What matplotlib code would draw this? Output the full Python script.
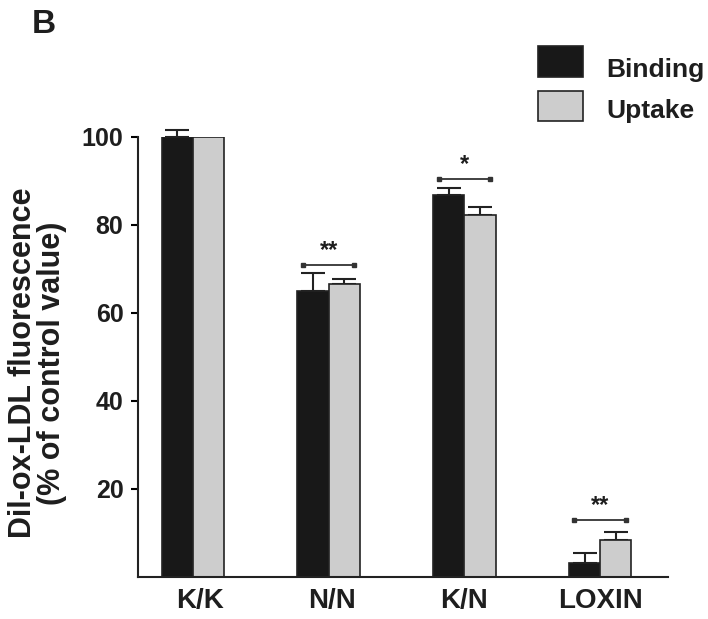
import matplotlib
matplotlib.use("Agg")
import matplotlib.pyplot as plt
import numpy as np
from matplotlib.patches import Rectangle

plt.rcParams['font.family'] = ['Liberation Sans', 'DejaVu Sans']
plt.rcParams['font.weight'] = 'bold'

categories = ["K/K", "N/N", "K/N", "LOXIN"]
binding = [100, 65, 86.8, 3.2]
binding_err = [1.5, 4.0, 1.6, 2.2]
uptake = [100, 66.6, 82.3, 8.4]
uptake_err = [0, 1.2, 1.7, 1.9]
sig_labels = ["", "**", "*", "**"]
sig_height = [None, 71, 90.5, 13]
yticks = [20, 40, 60, 80, 100]

fig = plt.figure(figsize=(7.08, 6.19), dpi=100)
ax = fig.add_axes([138/708, 1-577/619, (668-138)/708, (577-137)/619])

x = np.arange(len(categories))
w = 0.23
bcol = "#181818"
ucol = "#cdcdcd"
tc = "#1e1e1e"
ax.bar(x - w/2, binding, w, color=bcol, edgecolor="#222222", linewidth=1.2, zorder=2)
ax.bar(x + w/2, uptake, w, color=ucol, edgecolor="#222222", linewidth=1.2, zorder=2)
for xi, v, e in zip(x - w/2, binding, binding_err):
    if e > 0:
        ax.errorbar(xi, v, yerr=[[0], [e]], fmt="none", ecolor="#222222",
                    elinewidth=1.5, capsize=8.5, capthick=1.5, clip_on=False, zorder=1)
for xi, v, e in zip(x + w/2, uptake, uptake_err):
    if e > 0:
        ax.errorbar(xi, v, yerr=[[0], [e]], fmt="none", ecolor="#222222",
                    elinewidth=1.5, capsize=8.5, capthick=1.5, clip_on=False, zorder=1)

for xi, lab, h in zip(x, sig_labels, sig_height):
    if lab:
        ax.plot([xi - 0.19, xi + 0.19], [h, h], color="#333333", lw=1.3,
                marker="s", markersize=3, clip_on=False)
        ax.text(xi, h + 0.6, lab, ha="center", va="bottom", fontsize=17,
                fontweight="bold", color=tc)

ax.set_xlim(-0.405, 3.5)
ax.set_ylim(0, 100)
ax.set_yticks(yticks)
ax.set_yticklabels([str(t) for t in yticks], fontsize=18, fontweight="bold", color=tc)
ax.set_xticks(x + np.array([0.05, 0.026, 0, 0]))
ax.set_xticklabels(categories, fontsize=20, fontweight="bold", color=tc)
ax.tick_params(axis="x", length=0, pad=8)
ax.tick_params(axis="y", length=5, width=1.5, pad=5.5)
for s in ["top", "right"]:
    ax.spines[s].set_visible(False)
for s in ["left", "bottom"]:
    ax.spines[s].set_linewidth(1.5)
    ax.spines[s].set_color("#222222")

fig.text(37.5/708, 1-363/619, "Dil-ox-LDL fluorescence\n(% of control value)",
         rotation=90, ha="center", va="center", multialignment="center",
         fontsize=22, fontweight="bold", linespacing=0.95, color=tc)

# legend
fig.patches.append(Rectangle((538/708, 1-77/619), 45/708, 31/619, transform=fig.transFigure,
                             facecolor=bcol, edgecolor="#222222", lw=1.2))
fig.patches.append(Rectangle((538/708, 1-121/619), 45/708, 30/619, transform=fig.transFigure,
                             facecolor=ucol, edgecolor="#222222", lw=1.2))
fig.text(606/708, 1-77/619, "Binding", fontsize=19, fontweight="bold", va="baseline", color=tc)
fig.text(606/708, 1-118/619, "Uptake", fontsize=19, fontweight="bold", va="baseline", color=tc)

fig.text(32/708, 1-33/619, "B", fontsize=24, fontweight="bold", va="baseline", color=tc)

fig.savefig("out.png", dpi=100)
